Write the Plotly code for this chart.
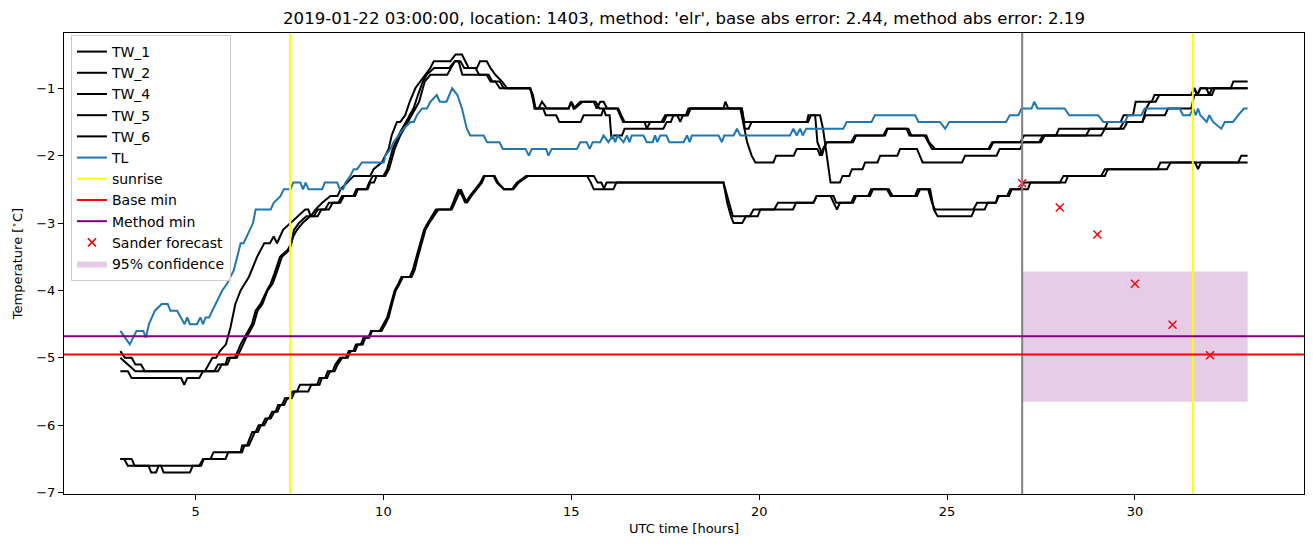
import plotly.graph_objects as go

# ---------------- data (hours UTC, degC) ----------------
TW_1 = [(3.0,-4.9),(3.12,-5.0),(3.3,-5.0),(3.4,-5.1),(3.55,-5.1),(3.65,-5.2),(5.25,-5.2),(5.35,-5.1),(5.45,-5.0),(5.55,-5.0),(5.65,-4.9),(5.81,-4.8),(5.93,-4.55),(6.06,-4.2),(6.2,-4.0),(6.42,-3.8),(6.64,-3.5),(6.83,-3.3),(6.98,-3.3),(7.08,-3.2),(7.17,-3.3),(7.33,-3.1),(7.53,-3.0),(7.75,-2.9),(7.92,-2.8),(8.0,-2.8),(8.07,-2.9),(8.19,-2.8),(8.37,-2.7),(8.59,-2.6),(8.78,-2.6),(8.86,-2.5),(9.03,-2.4),(9.21,-2.3),(9.65,-2.3),(9.74,-2.2),(9.96,-2.1),(10.14,-1.9),(10.22,-1.7),(10.36,-1.5),(10.45,-1.5),(10.58,-1.4),(10.7,-1.2),(10.85,-1.0),(10.98,-0.9),(11.12,-0.8),(11.25,-0.7),(11.34,-0.6),(11.78,-0.6),(11.92,-0.5),(12.09,-0.5),(12.18,-0.6),(12.27,-0.7),(12.49,-0.7),(12.57,-0.6),(12.75,-0.6),(12.85,-0.7),(12.98,-0.8),(13.16,-0.9),(13.29,-1.0),(13.91,-1.0),(13.95,-1.1),(14.04,-1.3),(14.13,-1.3),(14.22,-1.2),(14.35,-1.3),(14.93,-1.3),(14.99,-1.2),(15.06,-1.3),(15.24,-1.2),(15.6,-1.2),(15.68,-1.3),(15.77,-1.2),(15.86,-1.2),(15.95,-1.3),(16.22,-1.3),(16.3,-1.4),(16.38,-1.5),(16.95,-1.5),(17.01,-1.6),(17.1,-1.5),(17.46,-1.5),(17.54,-1.4),(18.1,-1.4),(18.18,-1.3),(19.05,-1.3),(19.1,-1.2),(19.18,-1.3),(19.54,-1.3),(19.62,-1.6),(19.72,-1.6),(19.8,-1.5),(21.27,-1.5),(21.31,-1.4),(21.49,-1.4),(21.55,-1.8),(21.62,-1.9),(21.67,-2.0),(21.72,-1.9),(21.8,-1.8),(22.5,-1.8),(22.58,-1.7),(23.35,-1.7),(23.42,-1.6),(23.97,-1.6),(24.05,-1.7),(24.45,-1.7),(24.52,-1.8),(24.68,-1.9),(26.14,-1.9),(26.23,-1.8),(26.95,-1.8),(27.05,-1.7),(27.9,-1.7),(27.98,-1.6),(29.2,-1.6),(29.28,-1.5),(29.62,-1.5),(29.7,-1.4),(29.95,-1.4),(30.02,-1.2),(30.45,-1.2),(30.52,-1.1),(31.5,-1.1),(31.58,-1.0),(31.66,-1.1),(31.74,-1.0),(31.9,-1.0),(31.98,-1.1),(32.05,-1.0),(32.55,-1.0),(32.62,-0.9),(33.0,-0.9)]
TW_2 = [(3.0,-5.0),(3.2,-5.1),(3.4,-5.2),(5.5,-5.2),(5.6,-5.1),(5.8,-5.1),(5.85,-5.0),(6.05,-5.0),(6.12,-4.9),(6.2,-4.8),(6.3,-4.7),(6.4,-4.6),(6.5,-4.5),(6.6,-4.3),(6.73,-4.2),(6.9,-4.0),(7.0,-3.9),(7.1,-3.75),(7.25,-3.5),(7.45,-3.4),(7.55,-3.3),(7.62,-3.1),(7.75,-3.0),(7.95,-2.9),(8.15,-2.9),(8.25,-2.8),(8.45,-2.8),(8.55,-2.7),(8.8,-2.7),(8.9,-2.6),(9.2,-2.6),(9.28,-2.5),(9.55,-2.5),(9.62,-2.4),(9.72,-2.3),(10.0,-2.3),(10.1,-2.2),(10.25,-1.9),(10.4,-1.7),(10.6,-1.5),(10.8,-1.3),(10.92,-1.1),(11.05,-0.9),(11.15,-0.8),(11.35,-0.7),(11.75,-0.7),(11.9,-0.6),(12.0,-0.6),(12.1,-0.8),(12.75,-0.8),(12.85,-0.9),(12.98,-0.9),(13.1,-1.0),(13.9,-1.0),(13.97,-1.1),(14.02,-1.3),(14.25,-1.3),(14.32,-1.4),(14.6,-1.4),(14.68,-1.5),(15.25,-1.5),(15.33,-1.4),(15.8,-1.4),(15.86,-1.3),(15.92,-1.4),(16.02,-1.4),(16.07,-1.75),(16.13,-1.7),(16.35,-1.7),(16.42,-1.6),(17.45,-1.6),(17.54,-1.5),(17.65,-1.5),(17.72,-1.4),(17.82,-1.4),(17.9,-1.5),(17.97,-1.4),(18.1,-1.4),(18.16,-1.3),(19.5,-1.3),(19.58,-1.5),(19.68,-1.8),(19.8,-2.0),(19.9,-2.1),(20.38,-2.1),(20.45,-2.0),(20.92,-2.0),(21.0,-1.9),(21.55,-1.9),(21.62,-2.0),(21.7,-1.9),(21.8,-1.8),(22.45,-1.8),(22.55,-1.7),(23.3,-1.7),(23.4,-1.6),(23.92,-1.6),(24.0,-1.7),(24.4,-1.7),(24.5,-1.8),(24.6,-1.9),(26.1,-1.9),(26.2,-1.8),(27.45,-1.8),(27.55,-1.7),(28.7,-1.7),(28.8,-1.6),(29.6,-1.6),(29.7,-1.5),(30.2,-1.5),(30.3,-1.3),(30.4,-1.2),(30.55,-1.2),(30.65,-1.1),(31.5,-1.1),(31.58,-1.0),(31.66,-1.1),(31.75,-1.0),(33.0,-1.0)]
TW_4 = [(3.0,-5.2),(3.2,-5.2),(3.3,-5.3),(4.62,-5.3),(4.7,-5.4),(4.78,-5.3),(5.1,-5.3),(5.2,-5.2),(5.6,-5.2),(5.7,-5.1),(5.85,-5.1),(5.92,-5.0),(6.1,-5.0),(6.18,-4.9),(6.25,-4.8),(6.35,-4.7),(6.45,-4.6),(6.55,-4.5),(6.65,-4.3),(6.78,-4.2),(6.92,-4.0),(7.05,-3.9),(7.15,-3.75),(7.3,-3.5),(7.5,-3.4),(7.6,-3.2),(7.7,-3.1),(7.85,-3.0),(8.05,-2.9),(8.25,-2.9),(8.35,-2.8),(8.55,-2.8),(8.65,-2.7),(8.85,-2.7),(8.95,-2.6),(9.25,-2.6),(9.32,-2.5),(9.58,-2.5),(9.65,-2.4),(9.75,-2.4),(9.82,-2.3),(10.05,-2.3),(10.15,-2.2),(10.3,-1.9),(10.45,-1.7),(10.65,-1.5),(10.85,-1.3),(10.95,-1.2),(11.1,-0.9),(11.25,-0.8),(11.7,-0.8),(11.9,-0.6),(12.05,-0.6),(12.15,-0.7),(12.45,-0.7),(12.55,-0.8),(12.8,-0.8),(12.9,-0.9),(13.1,-0.9),(13.2,-1.0),(13.9,-1.0),(13.98,-1.1),(14.05,-1.3),(14.93,-1.3),(15.0,-1.2),(15.1,-1.3),(15.3,-1.2),(15.65,-1.2),(15.75,-1.3),(16.25,-1.3),(16.33,-1.4),(16.42,-1.5),(17.4,-1.5),(17.5,-1.4),(18.05,-1.4),(18.12,-1.3),(19.54,-1.3),(19.6,-1.5),(21.3,-1.5),(21.38,-1.4),(21.62,-1.4),(21.7,-1.6),(21.8,-2.0),(21.9,-2.4),(22.15,-2.4),(22.22,-2.3),(22.4,-2.3),(22.47,-2.2),(22.75,-2.2),(22.82,-2.1),(23.15,-2.1),(23.22,-2.0),(23.68,-2.0),(23.75,-1.9),(24.2,-1.9),(24.28,-2.0),(24.35,-2.1),(25.4,-2.1),(25.48,-2.0),(26.32,-2.0),(26.4,-1.9),(26.95,-1.9),(27.02,-1.8),(27.5,-1.8),(27.6,-1.7),(29.1,-1.7),(29.2,-1.6),(29.7,-1.6),(29.8,-1.5),(30.2,-1.5),(30.28,-1.4),(30.8,-1.4),(30.88,-1.3),(31.5,-1.3),(31.58,-1.1),(32.05,-1.1),(32.12,-1.0),(33.0,-1.0)]
TW_5 = [(3.0,-6.5),(3.1,-6.5),(3.2,-6.6),(3.75,-6.6),(3.82,-6.7),(3.95,-6.7),(4.02,-6.6),(5.1,-6.6),(5.2,-6.5),(5.4,-6.5),(5.48,-6.4),(6.2,-6.4),(6.24,-6.3),(6.37,-6.3),(6.44,-6.2),(6.51,-6.1),(6.6,-6.1),(6.68,-6.0),(6.77,-6.0),(6.86,-5.9),(6.95,-5.9),(7.04,-5.8),(7.13,-5.8),(7.2,-5.7),(7.3,-5.7),(7.38,-5.6),(7.5,-5.6),(7.58,-5.5),(7.7,-5.5),(7.78,-5.4),(8.24,-5.4),(8.3,-5.3),(8.45,-5.3),(8.52,-5.2),(8.65,-5.2),(8.72,-5.1),(8.85,-5.0),(9.0,-5.0),(9.08,-4.9),(9.2,-4.9),(9.27,-4.8),(9.4,-4.8),(9.47,-4.7),(9.6,-4.7),(9.67,-4.6),(9.9,-4.6),(10.0,-4.5),(10.1,-4.4),(10.2,-4.2),(10.3,-4.0),(10.4,-3.9),(10.48,-3.8),(10.7,-3.8),(10.78,-3.7),(10.88,-3.5),(10.98,-3.3),(11.08,-3.1),(11.18,-3.0),(11.3,-2.9),(11.4,-2.8),(11.78,-2.8),(11.86,-2.7),(11.92,-2.6),(12.0,-2.5),(12.1,-2.6),(12.18,-2.7),(12.3,-2.6),(12.44,-2.5),(12.58,-2.4),(12.67,-2.3),(12.93,-2.3),(13.02,-2.4),(13.2,-2.5),(13.42,-2.5),(13.55,-2.4),(13.8,-2.3),(15.42,-2.3),(15.52,-2.4),(15.6,-2.5),(15.86,-2.5),(15.94,-2.4),(19.05,-2.4),(19.15,-2.7),(19.25,-2.9),(19.32,-3.0),(19.55,-3.0),(19.65,-2.9),(19.75,-2.9),(19.85,-2.8),(20.4,-2.8),(20.5,-2.7),(21.45,-2.7),(21.53,-2.6),(21.9,-2.6),(21.98,-2.7),(22.07,-2.8),(22.15,-2.7),(22.45,-2.7),(22.53,-2.6),(22.9,-2.6),(22.98,-2.5),(23.45,-2.5),(23.55,-2.6),(24.15,-2.6),(24.22,-2.5),(24.5,-2.5),(24.6,-2.7),(24.68,-2.8),(25.7,-2.8),(25.8,-2.7),(26.3,-2.7),(26.35,-2.6),(26.6,-2.6),(26.68,-2.5),(26.95,-2.5),(27.05,-2.4),(28.0,-2.4),(28.1,-2.3),(29.1,-2.3),(29.2,-2.2),(30.85,-2.2),(30.95,-2.1),(31.6,-2.1),(31.68,-2.2),(31.76,-2.1),(32.75,-2.1),(32.83,-2.0),(33.0,-2.0)]
TW_6 = [(3.0,-6.5),(3.3,-6.5),(3.38,-6.6),(4.08,-6.6),(4.15,-6.7),(4.85,-6.7),(4.93,-6.6),(5.15,-6.6),(5.22,-6.5),(5.8,-6.5),(5.87,-6.4),(6.24,-6.4),(6.3,-6.3),(6.42,-6.3),(6.5,-6.2),(6.58,-6.1),(6.66,-6.1),(6.74,-6.0),(6.83,-6.0),(6.92,-5.9),(7.0,-5.9),(7.1,-5.8),(7.18,-5.8),(7.26,-5.7),(7.36,-5.7),(7.44,-5.6),(7.56,-5.6),(7.64,-5.5),(8.0,-5.5),(8.08,-5.4),(8.3,-5.4),(8.36,-5.3),(8.5,-5.3),(8.58,-5.2),(8.7,-5.2),(8.78,-5.1),(8.9,-5.0),(9.05,-5.0),(9.13,-4.9),(9.25,-4.9),(9.32,-4.8),(9.45,-4.8),(9.52,-4.7),(9.62,-4.7),(9.7,-4.6),(9.95,-4.6),(10.05,-4.5),(10.14,-4.4),(10.23,-4.2),(10.33,-4.0),(10.43,-3.9),(10.52,-3.8),(10.75,-3.8),(10.83,-3.7),(10.92,-3.5),(11.02,-3.3),(11.12,-3.1),(11.22,-3.0),(11.34,-2.9),(11.46,-2.8),(11.82,-2.8),(11.9,-2.7),(11.98,-2.6),(12.06,-2.5),(12.14,-2.6),(12.22,-2.7),(12.34,-2.6),(12.48,-2.5),(12.62,-2.4),(12.7,-2.3),(12.96,-2.3),(13.05,-2.4),(13.22,-2.5),(13.46,-2.5),(13.6,-2.4),(13.85,-2.3),(15.6,-2.3),(15.7,-2.4),(15.8,-2.4),(15.88,-2.5),(16.12,-2.5),(16.2,-2.4),(19.05,-2.4),(19.2,-2.7),(19.3,-2.9),(19.96,-2.9),(20.03,-2.8),(20.9,-2.8),(20.98,-2.7),(21.44,-2.7),(21.53,-2.6),(21.98,-2.6),(22.05,-2.7),(22.5,-2.7),(22.58,-2.6),(22.95,-2.6),(23.03,-2.5),(23.4,-2.5),(23.5,-2.6),(24.2,-2.6),(24.28,-2.5),(24.55,-2.5),(24.65,-2.8),(24.75,-2.9),(25.65,-2.9),(25.73,-2.8),(26.0,-2.8),(26.08,-2.7),(26.3,-2.7),(26.38,-2.6),(26.65,-2.6),(26.72,-2.5),(27.15,-2.5),(27.22,-2.4),(28.15,-2.4),(28.22,-2.3),(29.2,-2.3),(29.28,-2.2),(30.6,-2.2),(30.68,-2.1),(33.0,-2.1)]
TL = [(3.0,-4.6),(3.25,-4.8),(3.43,-4.6),(3.61,-4.6),(3.68,-4.7),(3.76,-4.5),(3.92,-4.3),(4.1,-4.2),(4.26,-4.2),(4.33,-4.3),(4.51,-4.3),(4.62,-4.4),(4.71,-4.5),(4.78,-4.4),(4.85,-4.5),(5.04,-4.5),(5.13,-4.4),(5.2,-4.5),(5.27,-4.4),(5.36,-4.4),(5.53,-4.2),(5.71,-4.0),(5.84,-3.9),(6.02,-3.7),(6.11,-3.5),(6.2,-3.3),(6.28,-3.3),(6.46,-3.1),(6.53,-3.0),(6.6,-2.8),(7.0,-2.8),(7.08,-2.7),(7.26,-2.6),(7.35,-2.5),(7.53,-2.5),(7.6,-2.4),(7.79,-2.4),(7.86,-2.5),(7.93,-2.4),(8.01,-2.5),(8.37,-2.5),(8.44,-2.4),(8.77,-2.4),(8.84,-2.5),(8.93,-2.5),(8.99,-2.4),(9.12,-2.3),(9.21,-2.2),(9.3,-2.2),(9.43,-2.1),(10.01,-2.1),(10.05,-2.0),(10.19,-1.9),(10.27,-1.8),(10.41,-1.7),(10.54,-1.6),(10.72,-1.5),(10.81,-1.5),(10.89,-1.4),(11.03,-1.3),(11.16,-1.3),(11.25,-1.2),(11.42,-1.1),(11.5,-1.2),(11.68,-1.2),(11.83,-1.0),(11.97,-1.1),(12.09,-1.3),(12.22,-1.6),(12.31,-1.7),(12.67,-1.7),(12.76,-1.8),(13.09,-1.8),(13.18,-1.9),(13.78,-1.9),(13.87,-2.0),(13.95,-1.9),(14.33,-1.9),(14.39,-2.0),(14.48,-1.9),(15.15,-1.9),(15.24,-1.8),(15.41,-1.8),(15.49,-1.9),(15.57,-1.8),(15.77,-1.8),(15.86,-1.7),(15.99,-1.8),(16.1,-1.7),(16.17,-1.8),(16.23,-1.7),(16.39,-1.8),(16.48,-1.7),(16.55,-1.8),(16.61,-1.7),(16.92,-1.7),(17.01,-1.8),(17.17,-1.8),(17.23,-1.7),(17.29,-1.8),(17.37,-1.7),(17.53,-1.7),(17.61,-1.8),(17.99,-1.8),(18.08,-1.7),(18.15,-1.8),(18.21,-1.7),(18.92,-1.7),(19.01,-1.8),(19.07,-1.7),(19.32,-1.7),(19.41,-1.6),(19.5,-1.7),(20.82,-1.7),(20.91,-1.6),(21.0,-1.7),(21.09,-1.6),(21.16,-1.7),(21.25,-1.6),(22.24,-1.6),(22.33,-1.5),(22.99,-1.5),(23.08,-1.4),(24.15,-1.4),(24.24,-1.5),(24.81,-1.5),(24.95,-1.6),(25.06,-1.5),(26.57,-1.5),(26.67,-1.4),(26.9,-1.4),(26.98,-1.3),(27.25,-1.3),(27.32,-1.2),(27.41,-1.3),(28.13,-1.3),(28.25,-1.4),(29.02,-1.4),(29.16,-1.5),(29.73,-1.5),(29.82,-1.4),(30.17,-1.4),(30.26,-1.3),(31.19,-1.3),(31.28,-1.4),(31.46,-1.4),(31.55,-1.3),(31.62,-1.4),(31.68,-1.3),(31.74,-1.4),(31.91,-1.5),(31.98,-1.4),(32.08,-1.5),(32.3,-1.6),(32.39,-1.5),(32.61,-1.5),(32.75,-1.4),(32.9,-1.3),(33.0,-1.3)]

sunrise_times = [7.52, 31.54]
forecast_time = 27.0
base_min = -4.95
method_min = -4.68
forecast_t = [27, 28, 29, 30, 31, 32]
forecast_v = [-2.41, -2.77, -3.17, -3.90, -4.51, -4.96]
conf_t = [27.0, 33.0]
conf_lo = -5.65
conf_hi = -3.72

x_range = [1.5, 34.5]
y_range = [-7.02, -0.18]
x_ticks = [5, 10, 15, 20, 25, 30]
y_ticks = [-7, -6, -5, -4, -3, -2, -1]

title = "2019-01-22 03:00:00, location: 1403, method: 'elr', base abs error: 2.44, method abs error: 2.19"

# ---------------- figure ----------------
FONT = "DejaVu Sans"
fig = go.Figure()

rank = 1
for name, series in [("TW_1", TW_1), ("TW_2", TW_2), ("TW_4", TW_4), ("TW_5", TW_5), ("TW_6", TW_6)]:
    fig.add_trace(go.Scatter(x=[p[0] for p in series], y=[p[1] for p in series], mode="lines",
                             line=dict(color="black", width=2), name=name, legendrank=rank))
    rank += 1
fig.add_trace(go.Scatter(x=[p[0] for p in TL], y=[p[1] for p in TL], mode="lines",
                         line=dict(color="#1f77b4", width=2), name="TL", legendrank=rank))

# legend-only entries for reference lines
fig.add_trace(go.Scatter(x=[None], y=[None], mode="lines", line=dict(color="yellow", width=2),
                         name="sunrise", legendrank=7))
fig.add_trace(go.Scatter(x=[None], y=[None], mode="lines", line=dict(color="red", width=2),
                         name="Base min", legendrank=8))
fig.add_trace(go.Scatter(x=[None], y=[None], mode="lines", line=dict(color="purple", width=2),
                         name="Method min", legendrank=9))

# confidence box
fig.add_trace(go.Scatter(x=[conf_t[0], conf_t[1], conf_t[1], conf_t[0], conf_t[0]],
                         y=[conf_lo, conf_lo, conf_hi, conf_hi, conf_lo],
                         mode="lines", fill="toself", fillcolor="rgba(128,0,128,0.2)",
                         line=dict(width=0, color="rgba(0,0,0,0)"),
                         name="95% confidence", legendrank=11))

fig.add_trace(go.Scatter(x=forecast_t, y=forecast_v, mode="markers",
                         marker=dict(symbol="x-thin", size=8, line=dict(color="red", width=1.5), color="red"),
                         name="Sander forecast", legendrank=10))

shapes = []
for t in sunrise_times:
    shapes.append(dict(type="line", xref="x", yref="paper", x0=t, x1=t, y0=0, y1=1,
                       line=dict(color="yellow", width=2), layer="above"))
shapes.append(dict(type="line", xref="x", yref="paper", x0=forecast_time, x1=forecast_time, y0=0, y1=1,
                   line=dict(color="gray", width=2), layer="above"))
shapes.append(dict(type="line", xref="paper", yref="y", x0=0, x1=1, y0=base_min, y1=base_min,
                   line=dict(color="red", width=2), layer="above"))
shapes.append(dict(type="line", xref="paper", yref="y", x0=0, x1=1, y0=method_min, y1=method_min,
                   line=dict(color="purple", width=2), layer="above"))

axis_common = dict(showgrid=False, zeroline=False, showline=True, linecolor="black", linewidth=1,
                   mirror=True, ticks="outside", ticklen=5, tickwidth=1, tickcolor="black",
                   tickfont=dict(family=FONT, size=13, color="black"))

fig.update_layout(
    width=1313, height=547,
    margin=dict(l=64, r=9, t=33, b=53),
    paper_bgcolor="white", plot_bgcolor="white",
    font=dict(family=FONT, size=13, color="black"),
    title=dict(text=title, x=0.5, xref="paper", xanchor="center", y=1 - 18 / 547, yanchor="middle",
               font=dict(family=FONT, size=16.6, color="black")),
    xaxis=dict(range=x_range, tickvals=x_ticks,
               title=dict(text="UTC time [hours]", font=dict(family=FONT, size=13), standoff=6),
               **axis_common),
    yaxis=dict(range=y_range, tickvals=y_ticks,
               title=dict(text="Temperature [<sup>∘</sup>C]", font=dict(family=FONT, size=13), standoff=10),
               **axis_common),
    legend=dict(x=0.0056, y=0.9957, xanchor="left", yanchor="top",
                bgcolor="rgba(255,255,255,0.8)", bordercolor="#cccccc", borderwidth=1,
                font=dict(family=FONT, size=14, color="black"), tracegroupgap=0, itemwidth=30),
    shapes=shapes,
    showlegend=True,
)

fig.write_html("out.html")
